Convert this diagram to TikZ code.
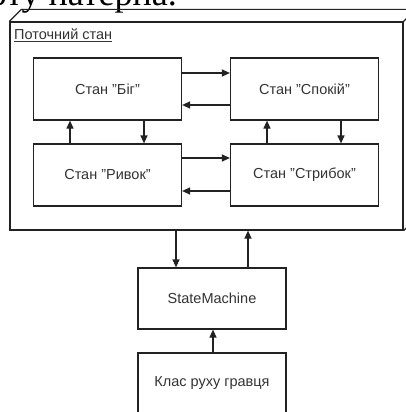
\documentclass[tikz,border=0pt]{standalone}
\usepackage{fontspec}
\setmainfont{Liberation Sans}
\newfontfamily\docfont{Liberation Serif}
\usetikzlibrary{arrows.meta}
\definecolor{ink}{HTML}{222222}
\definecolor{txt}{HTML}{333333}
\begin{document}
\begin{tikzpicture}[x=1pt,y=-1pt,
  box/.style={draw=ink,line width=1.2pt,fill=white,minimum width=148pt,minimum height=62pt,inner sep=0pt,text=txt,font=\fontsize{14.5}{16}\selectfont},
  arr/.style={draw=ink,line width=1.2pt,-{Triangle[length=8pt,width=7pt]}},
  edge3d/.style={draw=ink,line width=1.2pt}]
\useasboundingbox (0,0) rectangle (406,412);
\clip (0,0) rectangle (406,412);
% page text above
\node[anchor=base east,inner sep=0pt,font=\docfont\fontsize{36}{40}\selectfont] (doc) at (177,6) {роботу патерна.};
% 3D frame
\node[draw=ink,line width=1.2pt,fill=white,minimum width=393pt,minimum height=208pt,inner sep=0pt] (frame) at (206.5,126) {};
\coordinate (b1) at ([xshift=12pt,yshift=12pt]frame.north west);
\coordinate (b2) at ([xshift=12pt,yshift=12pt]frame.north east);
\coordinate (b3) at ([xshift=12pt,yshift=12pt]frame.south east);
\draw[edge3d,line join=round] (frame.north west) -- (b1) -- (b2) -- (b3) -- (frame.south east);
\draw[edge3d] (frame.north east) -- (b2);
\node[anchor=base west,inner sep=0pt,text=txt,font=\fontsize{14.5}{16}\selectfont] (title) at (14,40) {\underline{Поточний стан}};
% states
\node[box] (big) at (107.5,89) {Стан "Біг"};
\node[box] (spok) at (304.5,89) {Стан "Спокій"};
\node[box] (ryv) at (107.5,175) {Стан "Ривок"};
\node[box] (stryb) at (304.5,175) {Стан "Стрибок"};
\node[box,minimum height=61pt] (sm) at (212,298.5) {StateMachine};
\node[box,minimum height=61pt] (klas) at (212,383.5) {Клас руху гравця};
% horizontal transitions
\draw[arr] ([yshift=16pt]big.east) -- ([yshift=16pt]spok.west);
\draw[arr] ([yshift=-16pt]spok.west) -- ([yshift=-16pt]big.east);
\draw[arr] ([yshift=17pt]ryv.east) -- ([yshift=17pt]stryb.west);
\draw[arr] ([yshift=-16pt]stryb.west) -- ([yshift=-16pt]ryv.east);
% vertical transitions
\draw[arr] ([xshift=-37.5pt]ryv.north) -- ([xshift=-37.5pt]big.south);
\draw[arr] ([xshift=36.5pt]big.south) -- ([xshift=36.5pt]ryv.north);
\draw[arr] ([xshift=-37.5pt]stryb.north) -- ([xshift=-37.5pt]spok.south);
\draw[arr] ([xshift=36.5pt]spok.south) -- ([xshift=36.5pt]stryb.north);
% frame <-> state machine
\draw[arr] ([xshift=-36pt]sm.north |- frame.south) -- ([xshift=-36pt]sm.north);
\draw[arr] ([xshift=36pt]sm.north) -- ([xshift=36pt]sm.north |- frame.south);
\draw[arr] ([xshift=1pt]klas.north) -- ([xshift=1pt]sm.south);
\end{tikzpicture}
\end{document}
